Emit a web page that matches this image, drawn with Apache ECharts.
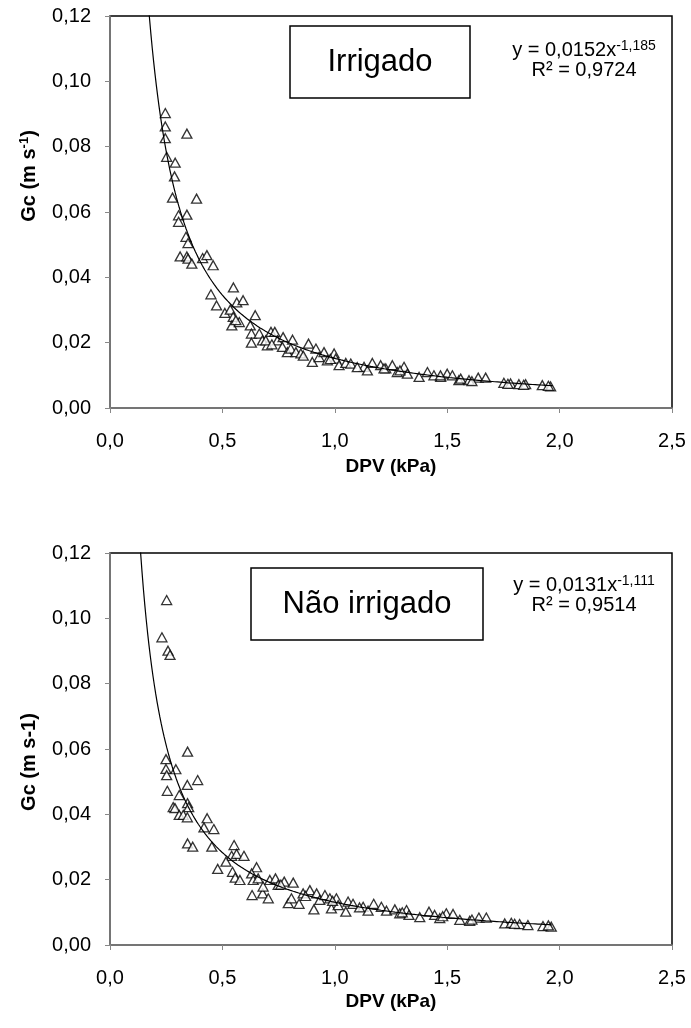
<!DOCTYPE html>
<html>
<head>
<meta charset="utf-8">
<script src="https://cdn.jsdelivr.net/npm/echarts@6/dist/echarts.min.js"></script>
<style>html,body{margin:0;padding:0;background:#fff}#c{width:691px;height:1028px}</style>
</head>
<body>
<div id="c"></div>
<script>
// ---- Data ----
const irrigadoDPV = [0.246,0.246,0.246,0.252,0.290,0.287,0.342,0.278,0.385,0.305,0.342,0.305,0.338,0.347,0.312,0.342,0.347,0.364,0.412,0.431,0.459,0.449,0.549,0.474,0.564,0.592,0.511,0.535,0.548,0.542,0.575,0.560,0.646,0.624,0.629,0.629,0.664,0.678,0.700,0.693,0.716,0.733,0.745,0.770,0.767,0.789,0.812,0.804,0.827,0.849,0.883,0.900,0.916,0.930,0.952,0.967,0.997,1.004,1.019,1.049,1.071,1.130,1.145,1.167,1.204,1.227,1.219,1.256,1.278,1.308,1.323,1.375,1.412,1.441,1.471,1.500,1.523,1.552,1.597,1.638,1.671,1.752,1.782,1.819,1.849,1.923,1.960,0.720,0.860,0.980,1.100,1.290,1.470,1.560,1.610,1.770,1.840,1.950];
const irrigadoGc  = [0.0903,0.0862,0.0826,0.0769,0.0751,0.0709,0.0840,0.0644,0.0641,0.0590,0.0592,0.0570,0.0524,0.0505,0.0464,0.0464,0.0457,0.0442,0.0459,0.0468,0.0437,0.0348,0.0369,0.0314,0.0323,0.0330,0.0291,0.0301,0.0279,0.0253,0.0263,0.0269,0.0284,0.0253,0.0228,0.0200,0.0228,0.0207,0.0192,0.0207,0.0233,0.0233,0.0207,0.0217,0.0187,0.0171,0.0209,0.0182,0.0171,0.0167,0.0197,0.0141,0.0182,0.0156,0.0171,0.0146,0.0167,0.0151,0.0131,0.0138,0.0136,0.0126,0.0115,0.0138,0.0131,0.0121,0.0121,0.0131,0.0110,0.0126,0.0105,0.0095,0.0110,0.0100,0.0095,0.0105,0.0100,0.0085,0.0085,0.0093,0.0093,0.0077,0.0075,0.0073,0.0073,0.0070,0.0066,0.0195,0.0160,0.0150,0.0125,0.0115,0.0100,0.0090,0.0082,0.0074,0.0071,0.0068];

const naoDPV = [0.252,0.231,0.258,0.267,0.249,0.345,0.249,0.293,0.252,0.390,0.344,0.255,0.308,0.345,0.350,0.281,0.289,0.308,0.326,0.344,0.432,0.418,0.462,0.345,0.368,0.453,0.552,0.541,0.563,0.596,0.516,0.479,0.652,0.545,0.557,0.578,0.630,0.637,0.659,0.632,0.679,0.704,0.681,0.711,0.736,0.748,0.775,0.815,0.793,0.807,0.841,0.859,0.889,0.907,0.919,0.933,0.956,0.978,0.985,1.007,1.015,1.049,1.059,1.081,1.126,1.148,1.173,1.207,1.230,1.267,1.289,1.319,1.330,1.378,1.419,1.444,1.467,1.496,1.526,1.556,1.600,1.641,1.674,1.756,1.785,1.822,1.859,1.926,1.963,0.760,0.870,0.990,1.110,1.300,1.480,1.610,1.800,1.950];
const naoGc  = [0.1056,0.0942,0.0901,0.0888,0.0569,0.0592,0.0539,0.0538,0.0520,0.0505,0.0490,0.0472,0.0459,0.0434,0.0422,0.0422,0.0419,0.0398,0.0398,0.0391,0.0388,0.0360,0.0355,0.0311,0.0301,0.0301,0.0306,0.0273,0.0279,0.0273,0.0255,0.0233,0.0238,0.0224,0.0206,0.0199,0.0219,0.0199,0.0204,0.0153,0.0158,0.0143,0.0179,0.0199,0.0204,0.0184,0.0194,0.0191,0.0128,0.0143,0.0126,0.0158,0.0168,0.0109,0.0158,0.0138,0.0153,0.0143,0.0112,0.0143,0.0122,0.0102,0.0133,0.0126,0.0117,0.0105,0.0126,0.0117,0.0105,0.0109,0.0097,0.0107,0.0092,0.0085,0.0102,0.0092,0.0082,0.0097,0.0095,0.0077,0.0074,0.0084,0.0084,0.0066,0.0068,0.0064,0.0061,0.0058,0.0056,0.0185,0.0150,0.0135,0.0115,0.0100,0.0088,0.0078,0.0065,0.0060];

// Power trendlines as printed on the chart: y = a * x^b
const fitIrrigado = {a: 0.0152, b: -1.185, from: 0.17, to: 1.97};
const fitNao      = {a: 0.0131, b: -1.111, from: 0.13, to: 1.965};

const xTicks = [0, 0.5, 1.0, 1.5, 2.0, 2.5];
const yTicks = [0, 0.02, 0.04, 0.06, 0.08, 0.10, 0.12];

// ---- Build ----
function pairs(xs, ys){ return xs.map((x,i)=>[x, ys[i]]); }
function trend(f){ const out=[]; const n=300; for(let i=0;i<=n;i++){ const x=f.from+(f.to-f.from)*i/n; out.push([x, f.a*Math.pow(x,f.b)]); } return out; }

const FONT = "'Liberation Sans', Arial, sans-serif";
const grids = [
  {left:110, top:16, width:562, height:392},
  {left:110, top:553, width:562, height:392}
];
function xAxis(gi){ return {
  type:'value', gridIndex:gi, min:xTicks[0], max:xTicks[xTicks.length-1], interval:0.5,
  axisLine:{show:true, lineStyle:{color:'#888', width:1.5}},
  axisTick:{show:true, inside:false, length:5, lineStyle:{color:'#888'}},
  splitLine:{show:false},
  axisLabel:{color:'#000', fontFamily:FONT, fontSize:20, margin:23, formatter:v=>v.toFixed(1).replace('.',',')}
};}
function yAxis(gi){ return {
  type:'value', gridIndex:gi, min:yTicks[0], max:yTicks[yTicks.length-1], interval:0.02,
  axisLine:{show:true, lineStyle:{color:'#888', width:1.5}},
  axisTick:{show:true, inside:false, length:5, lineStyle:{color:'#888'}},
  splitLine:{show:false},
  axisLabel:{color:'#000', fontFamily:FONT, fontSize:20, margin:19, formatter:v=>v.toFixed(2).replace('.',',')}
};}
function scatter(gi, data){ return {
  type:'scatter', xAxisIndex:gi, yAxisIndex:gi, data, symbol:'triangle', symbolSize:[10,9],
  itemStyle:{color:'#fff', borderColor:'#000', borderWidth:1.3}, z:3
};}
function line(gi, data){ return {
  type:'line', xAxisIndex:gi, yAxisIndex:gi, data, showSymbol:false, symbol:'none', clip:true,
  lineStyle:{color:'#000', width:1.2}, z:4, silent:true
};}

function boxText(x,y,w,h,txt){ return [
  {type:'rect', shape:{x:x,y:y,width:w,height:h}, style:{fill:'#fff', stroke:'#000', lineWidth:1.5}, z:10},
  {type:'text', x:x+w/2, y:y+h/2, style:{text:txt, font:"31px "+FONT, fill:'#000', align:'center', verticalAlign:'middle'}, z:11}
];}
function eqText(cx, cy, a, b, r2){ return [
  {type:'text', x:cx, y:cy, z:11, style:{text:'{n|y = '+a+'x}{s|'+b+'}', align:'center', verticalAlign:'middle',
    rich:{n:{fontFamily:FONT, fontSize:20, color:'#000', lineHeight:22}, s:{fontFamily:FONT, fontSize:14, color:'#000', verticalAlign:'top', lineHeight:22}}}},
  {type:'text', x:cx, y:cy+20, z:11, style:{text:'R² = '+r2, font:"20px "+FONT, fill:'#000', align:'center', verticalAlign:'middle'}}
];}
function yTitle(cx, cy, sup){
  const txt = sup ? '{b|Gc (m s}{s|-1}{b|)}' : '{b|Gc (m s-1)}';
  return {type:'text', x:cx, y:cy, rotation:Math.PI/2, z:11, style:{text:txt, align:'center', verticalAlign:'middle',
    rich:{b:{fontFamily:FONT, fontWeight:'bold', fontSize:20, color:'#000', lineHeight:22}, s:{fontFamily:FONT, fontWeight:'bold', fontSize:13, color:'#000', verticalAlign:'top', lineHeight:22}}}};
}
function xTitle(cx, cy){ return {type:'text', x:cx, y:cy, z:11, style:{text:'DPV (kPa)', font:"bold 19px "+FONT, fill:'#000', align:'center', verticalAlign:'middle'}}; }

const chart = echarts.init(document.getElementById('c'), null, {renderer:'canvas'});
chart.setOption({
  animation:false,
  backgroundColor:'#fff',
  grid: grids.map(g=>Object.assign({show:true, borderColor:'#000', borderWidth:1.5, backgroundColor:'transparent'}, g)),
  xAxis:[xAxis(0), xAxis(1)],
  yAxis:[yAxis(0), yAxis(1)],
  series:[
    scatter(0, pairs(irrigadoDPV, irrigadoGc)), line(0, trend(fitIrrigado)),
    scatter(1, pairs(naoDPV, naoGc)), line(1, trend(fitNao))
  ],
  graphic:[].concat(
    boxText(290,26,180,72,'Irrigado'),
    boxText(251,568,232,72,'Não irrigado'),
    eqText(584,50,'0,0152','-1,185','0,9724'),
    eqText(584,585,'0,0131','-1,111','0,9514'),
    [yTitle(29,176,true), yTitle(29,762,false), xTitle(391,467), xTitle(391,1002)]
  )
});
</script>
</body>
</html>
